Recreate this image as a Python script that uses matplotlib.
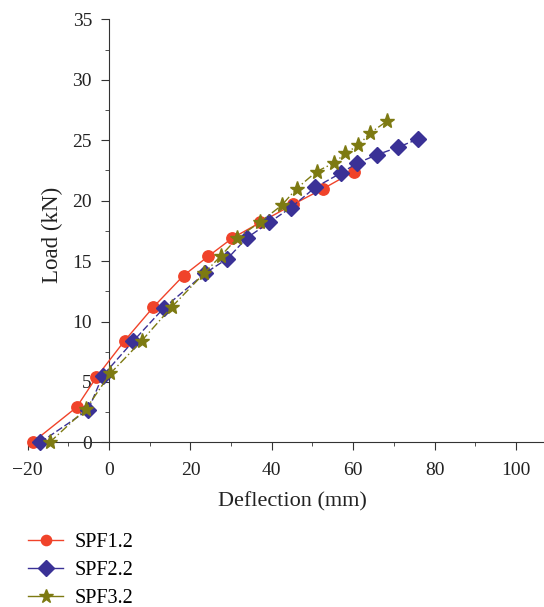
import numpy as np
import matplotlib.pyplot as plt
from matplotlib.lines import Line2D
from matplotlib.ticker import MultipleLocator

plt.rcParams['font.family'] = ['Liberation Serif', 'DejaVu Serif']

# dati
spf1_x = [-18.8, -8.0, -3.1, 3.8, 10.9, 18.3, 24.4, 30.3, 37.2, 45.3, 52.7, 60.1]
spf1_y = [0.0, 2.9, 5.4, 8.4, 11.2, 13.8, 15.4, 16.9, 18.2, 19.7, 21.0, 22.4]

spf2_x = [-16.9, -5.1, -1.6, 6.0, 13.4, 23.6, 29.1, 33.8, 39.4, 44.6, 50.7, 57.1,
          61.0, 65.9, 70.9, 76.0]
spf2_y = [0.0, 2.7, 5.5, 8.4, 11.1, 14.0, 15.2, 16.9, 18.2, 19.4, 21.1, 22.3,
          23.1, 23.8, 24.4, 25.1]

spf3_x = [-14.6, -5.6, 0.3, 8.0, 15.4, 23.4, 27.4, 31.5, 37.0, 42.4, 46.1, 51.0,
          55.2, 58.1, 61.3, 64.2, 68.4]
spf3_y = [0.0, 2.8, 5.7, 8.4, 11.2, 14.0, 15.4, 16.9, 18.2, 19.6, 21.0, 22.4,
          23.1, 23.9, 24.6, 25.6, 26.6]

labels = ["SPF1.2", "SPF2.2", "SPF3.2"]
colori = ["#F0432A", "#3A3196", "#7D7A12"]
marker = ["o", "D", "*"]
msize = [8.2, 8.5, 11]

fig = plt.figure(figsize=(5.44, 6.07), dpi=100)
ax = fig.add_axes([27.7/544, 0.2712, 516.3/544, 0.697])

ax.plot(spf1_x, spf1_y, color=colori[0], linestyle="-", linewidth=1.0,
        marker=marker[0], markersize=msize[0], clip_on=False, zorder=3)
ax.plot(spf2_x, spf2_y, color=colori[1], linestyle=(0, (5, 2)), linewidth=1.0,
        marker=marker[1], markersize=msize[1], clip_on=False, zorder=3)
ax.plot(spf3_x, spf3_y, color=colori[2], linestyle=(0, (6, 2, 1, 2)), linewidth=1.0,
        marker=marker[2], markersize=msize[2], clip_on=False, zorder=3)

ax.set_xlim(-20, 106.9)
ax.set_ylim(0, 35)

ax.spines["left"].set_position(("data", 0))
ax.spines["right"].set_visible(False)
ax.spines["top"].set_visible(False)
for s in ("left", "bottom"):
    ax.spines[s].set_color("#333333")

ax.set_xticks(np.arange(-20, 101, 20))
ax.xaxis.set_minor_locator(MultipleLocator(10))
ax.yaxis.set_major_locator(MultipleLocator(5))
ax.yaxis.set_minor_locator(MultipleLocator(2.5))

ax.tick_params(axis="both", which="major", direction="out", length=5.8,
               labelsize=14, color="#333333", labelcolor="#222222", pad=6.5)
ax.tick_params(axis="x", which="major", pad=8)
ax.tick_params(axis="both", which="minor", direction="out", length=3,
               color="#333333")

ax.set_xlabel("Deflection (mm)", fontsize=16, color="#222222")
ax.set_ylabel("Load (kN)", fontsize=16.5, color="#222222")
ax.xaxis.set_label_coords(0.512, -0.118)
ax.yaxis.set_label_coords(0.068, 0.490)

# legenda con linee continue
handles = [Line2D([], [], color=c, linewidth=1.0, marker=m, markersize=s * 0.9)
           for c, m, s in zip(colori, marker, msize)]
fig.legend(handles, labels, loc="center left", bbox_to_anchor=(28/544, 1 - 570.5/607),
           frameon=False, fontsize=14.5, handlelength=1.74, handletextpad=0.6,
           labelspacing=0.44, borderpad=0, borderaxespad=0)

fig.savefig("out.png", dpi=100)
